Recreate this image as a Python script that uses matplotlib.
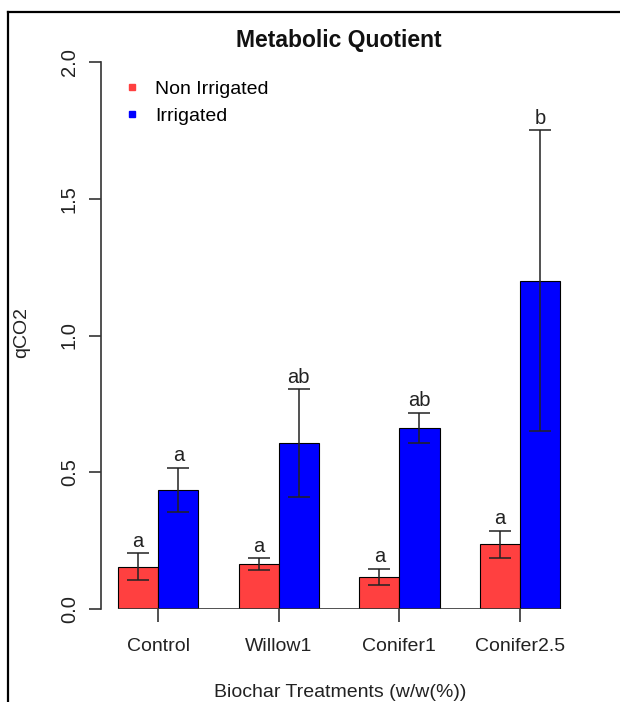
import numpy as np
import matplotlib
matplotlib.use("Agg")
import matplotlib.pyplot as plt
from matplotlib.lines import Line2D

plt.rcParams['font.family'] = ['Liberation Sans', 'DejaVu Sans']

treatments = ['Control', 'Willow1', 'Conifer1', 'Conifer2.5']
non_irr = [0.155, 0.165, 0.118, 0.237]
non_irr_se = [0.048, 0.022, 0.030, 0.050]
irr = [0.435, 0.608, 0.663, 1.200]
irr_se = [0.082, 0.197, 0.055, 0.550]
non_irr_letters = ['a', 'a', 'a', 'a']
irr_letters = ['a', 'ab', 'ab', 'b']
series_names = ['Non Irrigated', 'Irrigated']

red = '#FF4040'
blue = '#0000FF'

fig = plt.figure(figsize=(6.2, 7.02), dpi=100)
ax = fig.add_axes([101 / 620, 93 / 702, 476 / 620, 547 / 702])

# R barplot(beside=TRUE) layout: bar width 1, one bar gap between groups
grp = np.arange(len(treatments)) * 3
x_red = grp + 0.5
x_blue = grp + 1.5

ax.bar(x_red, non_irr, width=1, color=red, edgecolor='black', linewidth=0.8)
ax.bar(x_blue, irr, width=1, color=blue, edgecolor='black', linewidth=0.8)
ax.errorbar(x_red, non_irr, yerr=non_irr_se, fmt='none', ecolor='#222222',
            elinewidth=1.1, capsize=8, capthick=1.1)
ax.errorbar(x_blue, irr, yerr=irr_se, fmt='none', ecolor='#222222',
            elinewidth=1.1, capsize=8, capthick=1.1)

for xs, ys, es, labs in [(x_red, non_irr, non_irr_se, non_irr_letters),
                         (x_blue, irr, irr_se, irr_letters)]:
    for x, y, e, lab in zip(xs, ys, es, labs):
        ax.annotate(lab, (x, y + e), xytext=(0, 4.5), textcoords='offset points',
                    ha='center', va='baseline', fontsize=14.5, color='#222222')

ax.hlines(0, x_red[0] - 0.5, x_blue[-1] + 0.5, color='#333333', linewidth=1.2)

ax.set_xlim(-0.423, 11.42)
ax.set_ylim(0, 2.0)
ax.set_xticks(grp + 1)
ax.set_xticklabels(treatments)
ax.set_yticks([0.0, 0.5, 1.0, 1.5, 2.0])
ax.set_yticklabels(['0.0', '0.5', '1.0', '1.5', '2.0'])
for s in ['top', 'right', 'bottom']:
    ax.spines[s].set_visible(False)
ax.spines['left'].set_color('#333333')
ax.spines['left'].set_linewidth(1.2)
ax.tick_params(axis='both', direction='out', length=9, width=1.2, color='#333333',
               labelsize=14, labelcolor='#222222')
ax.tick_params(axis='x', pad=12)
ax.tick_params(axis='y', labelrotation=90, pad=7, labelsize=14.5)
for t in ax.get_yticklabels():
    t.set_va('center')

handles = [Line2D([], [], marker='s', linestyle='none', color=c, markersize=5)
           for c in (red, blue)]
fig.legend(handles, series_names, loc='upper left', bbox_to_anchor=(124 / 620, 1 - 80 / 702),
           frameon=False, fontsize=14, handlelength=0.8, handletextpad=0.8,
           labelspacing=0.5, borderpad=0, borderaxespad=0)

fig.text(339 / 620, 1 - 47 / 702, 'Metabolic Quotient', ha='center', va='baseline',
         fontsize=16.5, fontweight='bold', color='#111111')
fig.text(340 / 620, 1 - 697 / 702, 'Biochar Treatments (w/w(%))', ha='center',
         va='baseline', fontsize=14, color='#222222')
fig.text(22 / 620, 1 - 333 / 702, 'qCO2', ha='center', va='center', rotation=90,
         fontsize=14, color='#222222')

# screenshot frame (left and top edges)
fig.add_artist(Line2D([8 / 620, 8 / 620], [0, 1 - 12 / 702], color='black', linewidth=1.6))
fig.add_artist(Line2D([8 / 620, 1], [1 - 12 / 702, 1 - 12 / 702], color='black', linewidth=1.6))

fig.savefig('out.png', dpi=100)
